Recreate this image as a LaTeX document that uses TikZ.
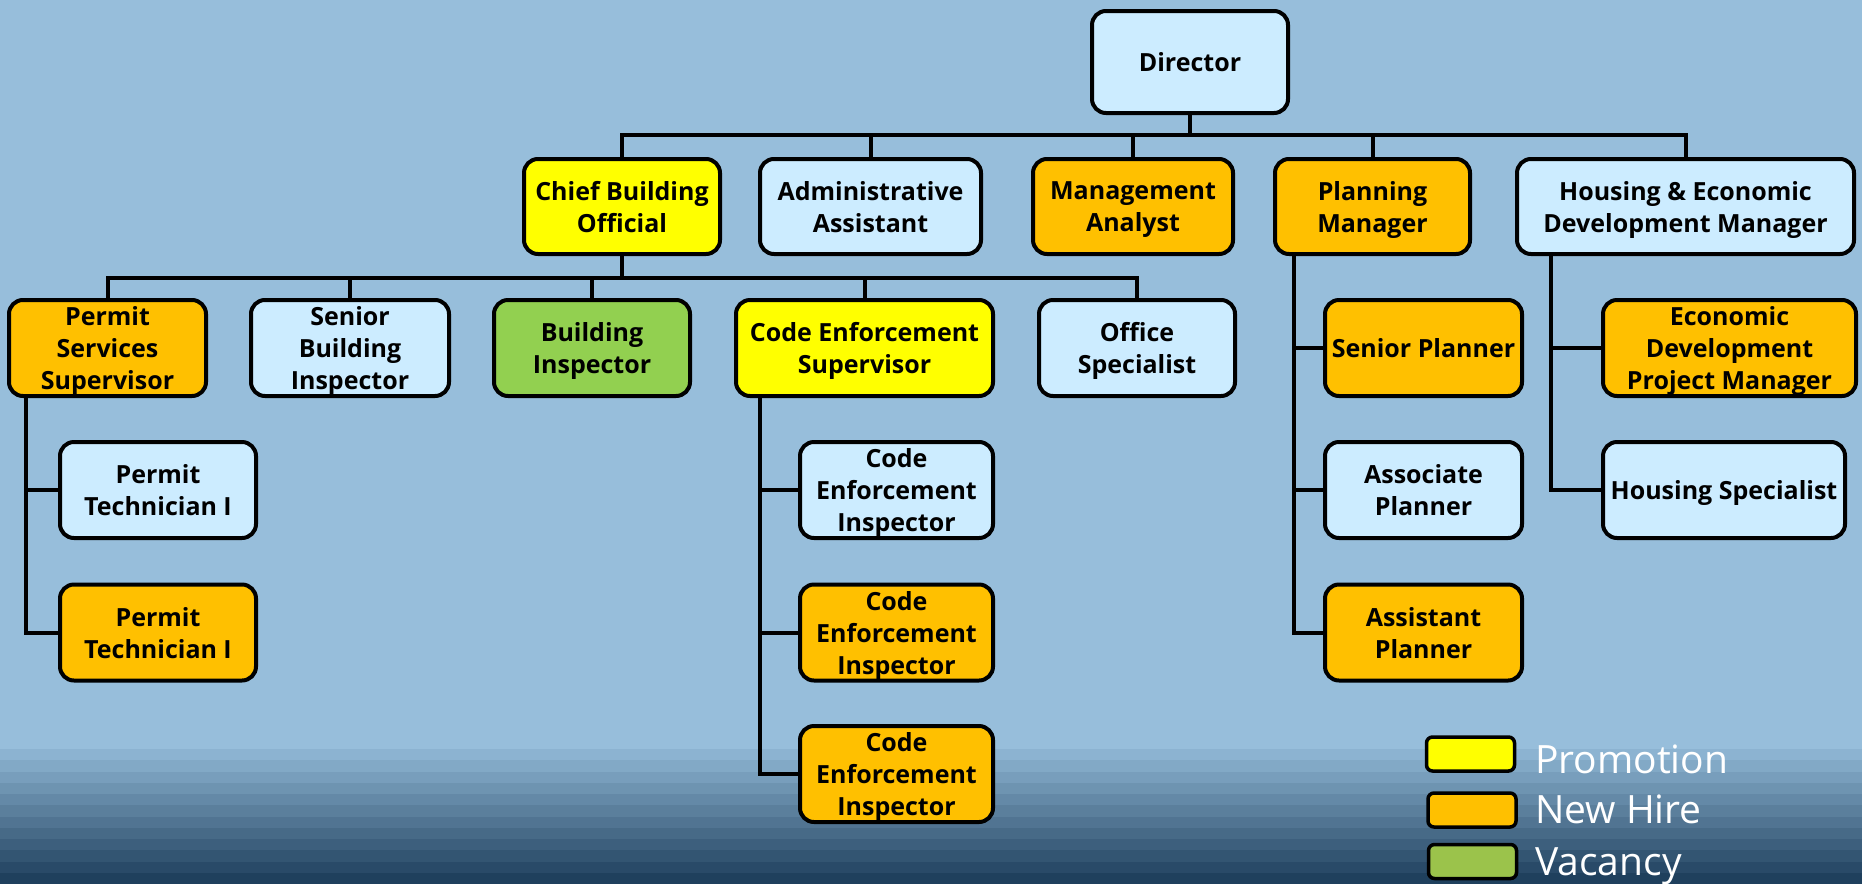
\documentclass[tikz,border=0pt]{standalone}
\usepackage{fontspec}
\setmainfont{Open Sans}
\usetikzlibrary{calc}
\definecolor{bg}{HTML}{97BEDB}
\definecolor{stripetop}{HTML}{8CB3D1}
\definecolor{stripebot}{HTML}{1F405D}
\definecolor{boxblue}{HTML}{CCECFF}
\definecolor{promo}{HTML}{FFFF00}
\definecolor{hire}{HTML}{FFC000}
\definecolor{vac}{HTML}{92D050}
\definecolor{vaclegend}{HTML}{9BC34B}
\newcommand\boxfont{\fontsize{25}{32}\selectfont\bfseries}
\newcommand\legfont{\fontsize{39}{39}\selectfont}
\tikzset{
  box/.style={draw=black, line width=4pt, rounded corners=14pt, align=center,
    font=\boxfont, inner sep=0pt, text=black, minimum height=96, text depth=0pt},
  bl/.style={box, fill=boxblue},
  ye/.style={box, fill=promo},
  orr/.style={box, fill=hire},
  gr/.style={box, fill=vac},
  conn/.style={draw=black, line width=4pt},
  legbox/.style={draw=black, line width=3.5pt, rounded corners=6pt, minimum width=88, minimum height=34, inner sep=0pt},
  legtext/.style={font=\legfont, text=white, inner sep=0pt, anchor=base west}
}
\begin{document}
\begin{tikzpicture}[x=1pt,y=-1pt]
\fill[bg] (0,0) rectangle (1862,884);
\useasboundingbox (0,0) rectangle (1862,884);
\foreach \i in {0,...,11}{
  \pgfmathsetmacro\p{100-\i*100/11}
  \fill[stripetop!\p!stripebot] (0,{749+\i*11.25}) rectangle (1862,{749+(\i+1)*11.25+0.3});
}
% nodes
\node[bl, minimum width=196, minimum height=102] (dir) at (1190,62) {Director};
\node[ye, minimum width=196, minimum height=95] (chief) at (622,206.5) {Chief Building\\Official};
\node[bl, minimum width=221, minimum height=95] (admin) at (870.5,206.5) {Administrative\\Assistant};
\node[orr, minimum width=200, minimum height=95] (mgmt) at (1133,206.5) {Management\\Analyst};
\node[orr, minimum width=195, minimum height=95] (plan) at (1372.5,206.5) {Planning\\Manager};
\node[bl, minimum width=337, minimum height=95] (hed) at (1685.5,206.5) {Housing \& Economic\\Development Manager};

\node[orr, minimum width=197] (pss) at (107.5,348) {Permit\\Services\\Supervisor};
\node[bl, minimum width=198] (sbi) at (350,348) {Senior\\Building\\Inspector};
\node[gr, minimum width=196] (bi) at (592,348) {Building\\Inspector};
\node[ye, minimum width=257] (ces) at (864.5,348) {Code Enforcement\\Supervisor};
\node[bl, minimum width=196] (os) at (1137,348) {Office\\Specialist};
\node[orr, minimum width=197] (sp) at (1423.5,348) {Senior Planner};
\node[orr, minimum width=253] (edpm) at (1729.5,348) {Economic\\Development\\Project Manager};

\node[bl, minimum width=196] (pt1) at (158,490) {Permit\\Technician I};
\node[bl, minimum width=193] (cei1) at (896.5,490) {Code\\Enforcement\\Inspector};
\node[bl, minimum width=197] (ap) at (1423.5,490) {Associate\\Planner};
\node[bl, minimum width=242] (hs) at (1724,490) {Housing Specialist};

\node[orr, minimum width=196] (pt2) at (158,632.5) {Permit\\Technician I};
\node[orr, minimum width=193] (cei2) at (896.5,632.5) {Code\\Enforcement\\Inspector};
\node[orr, minimum width=197] (asp) at (1423.5,632.5) {Assistant\\Planner};

\node[orr, minimum width=193] (cei3) at (896.5,774) {Code\\Enforcement\\Inspector};

% connectors
\coordinate (b1) at (1190,135);
\draw[conn] (dir.south) -- (b1);
\draw[conn] (chief.north) -- (chief.north |- b1) -- (hed.north |- b1) -- (hed.north);
\foreach \n in {admin,mgmt,plan} \draw[conn] (\n.north) -- (\n.north |- b1);
\coordinate (b2) at (622,278);
\draw[conn] (chief.south) -- (b2);
\draw[conn] (pss.north) -- (pss.north |- b2) -- (os.north |- b2) -- (os.north);
\foreach \n in {sbi,bi,ces} \draw[conn] (\n.north) -- (\n.north |- b2);

\coordinate (v1) at ($(pss.south)+(-81.5,0)$);
\draw[conn] (v1) |- (pt2.west);
\draw[conn] (pt1.west) -- (pt1.west -| v1);
\coordinate (v2) at ($(ces.south)+(-104.5,0)$);
\draw[conn] (v2) |- (cei3.west);
\foreach \n in {cei1,cei2} \draw[conn] (\n.west) -- (\n.west -| v2);
\coordinate (v3) at ($(plan.south)+(-78.5,0)$);
\draw[conn] (v3) |- (asp.west);
\foreach \n in {sp,ap} \draw[conn] (\n.west) -- (\n.west -| v3);
\coordinate (v4) at ($(hed.south)+(-134.5,0)$);
\draw[conn] (v4) |- (hs.west);
\draw[conn] (edpm.west) -- (edpm.west -| v4);

% legend
\node[legbox, fill=promo] (lp) at (1470.5,754) {};
\node[legbox, fill=hire] (lh) at (1472,810) {};
\node[legbox, fill=vaclegend] (lv) at (1472.5,861.5) {};
\node[legtext] (tp) at (1535,773) {Promotion};
\node[legtext] (th) at (1535,823) {New Hire};
\node[legtext] (tv) at (1535,875) {Vacancy};
\end{tikzpicture}
\end{document}
